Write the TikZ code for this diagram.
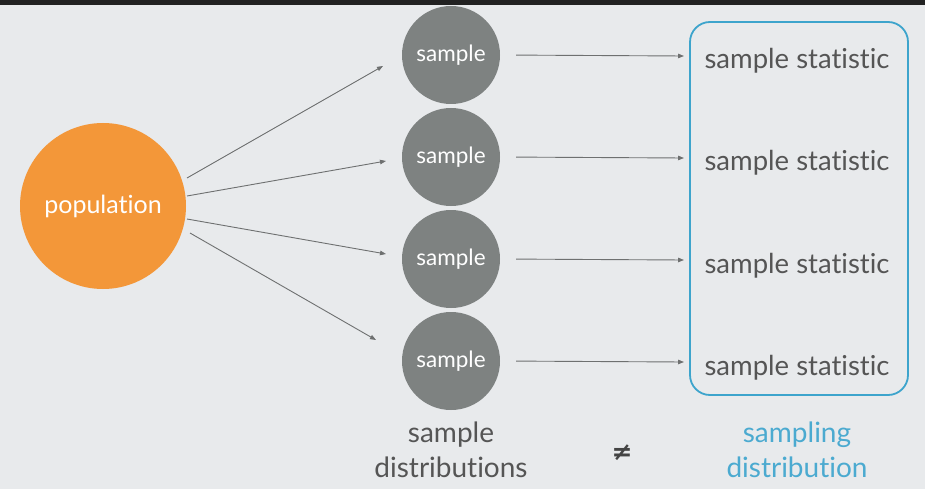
\documentclass[tikz,border=0pt]{standalone}
\usepackage{fontspec}
\setmainfont{Lato}[Ligatures=CommonOff]
\newfontfamily\symfont{DejaVu Sans}
\usetikzlibrary{arrows.meta}
\definecolor{bgc}{HTML}{E8EAEC}
\definecolor{barc}{HTML}{222222}
\definecolor{popc}{HTML}{F39739}
\definecolor{smpc}{HTML}{7E8281}
\definecolor{linec}{HTML}{6E7070}
\definecolor{txtc}{HTML}{555555}
\definecolor{bluec}{HTML}{3DA4CC}
\definecolor{bluet}{HTML}{4BAAD0}
\newcommand{\lowertxt}[1]{\raisebox{-2pt}{#1}}
\tikzset{
  popnode/.style={circle, fill=popc, minimum size=166pt, inner sep=0pt, text=white, font=\fontsize{25}{28}\selectfont},
  smpnode/.style={circle, fill=smpc, minimum size=98pt, inner sep=0pt, text=white, font=\fontsize{22.5}{25}\selectfont},
  stattext/.style={anchor=base, text=txtc, inner sep=0pt, font=\fontsize{27.5}{30}\selectfont},
  boxnode/.style={draw=bluec, line width=1.8pt, rounded corners=20pt, minimum width=218pt, minimum height=373pt, inner sep=0pt},
  arr/.style={draw=linec, line width=0.9pt, -{Triangle[length=6pt,width=4.5pt]}},
  bottomlbl/.style={anchor=base, inner sep=0pt, font=\fontsize{28}{30}\selectfont, align=center}
}
\begin{document}
\begin{tikzpicture}[x=1pt,y=-1pt]
\useasboundingbox (0,0) rectangle (925,489);
\fill[bgc] (0,0) rectangle (925,489);

\node[popnode] (pop) at (103,206) {\lowertxt{population}};

\node[smpnode] (s1) at (451,55) {\lowertxt{sample}};
\node[smpnode] (s2) at (451,157) {\lowertxt{sample}};
\node[smpnode] (s3) at (451,259) {\lowertxt{sample}};
\node[smpnode] (s4) at (451,361) {\lowertxt{sample}};

\node[boxnode] (box) at (799,208.5) {};

\node[stattext] (t1) at (797,69) {sample statistic};
\node[stattext] (t2) at (797,171) {sample statistic};
\node[stattext] (t3) at (797,273) {sample statistic};
\node[stattext] (t4) at (797,375) {sample statistic};

% fan-out arrows
\coordinate (p1) at (187,178); \coordinate (q1) at (383,66);
\coordinate (p2) at (187,196); \coordinate (q2) at (386,161);
\coordinate (p3) at (187,219); \coordinate (q3) at (386,254);
\coordinate (p4) at (190,233); \coordinate (q4) at (376,340);
\draw[arr] (p1) -- (q1);
\draw[arr] (p2) -- (q2);
\draw[arr] (p3) -- (q3);
\draw[arr] (p4) -- (q4);

% sample -> statistic arrows
\coordinate (e1) at (684,56);
\coordinate (e2) at (684,158);
\coordinate (e3) at (684,260);
\coordinate (e4) at (684,362);
\draw[arr, shorten <=16pt] (s1.east) -- (e1);
\draw[arr, shorten <=16pt] (s2.east) -- (e2);
\draw[arr, shorten <=16pt] (s3.east) -- (e3);
\draw[arr, shorten <=16pt] (s4.east) -- (e4);

\node[bottomlbl, text=txtc] (lbl1) at (451,442) {sample};
\node[bottomlbl, text=txtc] (lbl2) at (451,477) {distributions};
\node[text=txtc!80!black, inner sep=0pt, font=\symfont\bfseries\fontsize{25}{27}\selectfont] (neq) at (622,453) {≠};
\node[bottomlbl, text=bluet] (lbl3) at (797,442) {sampling};
\node[bottomlbl, text=bluet] (lbl4) at (797,477) {distribution};

\fill[barc] (0,0) rectangle (925,5);
\end{tikzpicture}
\end{document}
